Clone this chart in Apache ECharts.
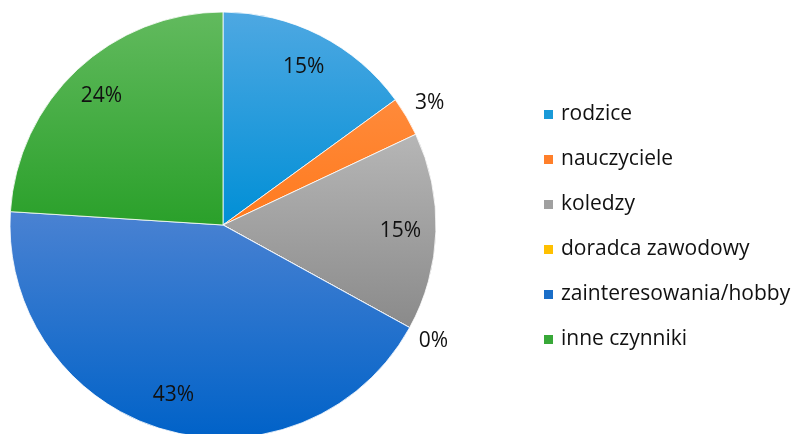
<!DOCTYPE html>
<html>
<head>
<meta charset="UTF-8">
<title>pie</title>
<script src="https://cdn.jsdelivr.net/npm/echarts@6/dist/echarts.min.js"></script>
<style>
  html, body { margin: 0; padding: 0; background: #fff; }
  #chart { width: 794px; height: 434px; }
</style>
</head>
<body>
<div id="chart"></div>
<script>
var categories = ['rodzice', 'nauczyciele', 'koledzy', 'doradca zawodowy', 'zainteresowania/hobby', 'inne czynniki'];
var values = [15, 3, 15, 0, 43, 24];
// labels drawn outside the pie (small slices)
var outsideLabels = ['nauczyciele', 'doradca zawodowy'];

var topColors = ['#4ea8e2', '#ff8a3a', '#b6b6b6', '#ffc61a', '#4a82d2', '#62ba5e'];
var bottomColors = ['#008fd6', '#ff7a1e', '#8a8a8a', '#ffbb00', '#0062c8', '#2aa02a'];
var legendColors = ['#1a9ad8', '#ff7f2a', '#a0a0a0', '#ffc000', '#1a6ec8', '#38a838'];

var center = [223, 225];
var R = 213;
var font = '"Open Sans", sans-serif';

var chart = echarts.init(document.getElementById('chart'));

var mainData = categories.map(function (name, i) {
  return {
    name: name,
    value: values[i],
    itemStyle: {
      color: new echarts.graphic.LinearGradient(0, 0, 0, 1, [
        { offset: 0, color: topColors[i] },
        { offset: 1, color: bottomColors[i] }
      ])
    }
  };
});

function labelData(inside) {
  return categories.map(function (name, i) {
    var isOut = outsideLabels.indexOf(name) >= 0;
    return {
      name: name,
      value: values[i],
      label: { show: inside ? !isOut : isOut }
    };
  });
}

var labelStyle = {
  position: 'inside',
  formatter: '{d}%',
  color: '#111111',
  fontFamily: font,
  fontSize: 21
};

var option = {
  animation: false,
  legend: {
    orient: 'vertical',
    left: 537,
    top: 99,
    itemWidth: 11,
    itemHeight: 11,
    itemGap: 24,
    icon: 'rect',
    selectedMode: false,
    textStyle: { fontFamily: font, fontSize: 21, color: '#111111', padding: [0, 0, 0, 2] },
    data: categories.map(function (name, i) {
      return { name: name, itemStyle: { color: legendColors[i] } };
    })
  },
  series: [{
    type: 'pie',
    center: center,
    radius: [0, R],
    startAngle: 90,
    clockwise: true,
    silent: true,
    label: { show: false },
    labelLine: { show: false },
    itemStyle: { borderColor: '#ffffff', borderWidth: 0.8 },
    data: mainData
  }, {
    type: 'pie',
    center: center,
    radius: [136, R],
    startAngle: 90,
    silent: true,
    itemStyle: { color: 'rgba(0,0,0,0)' },
    label: labelStyle,
    labelLine: { show: false },
    data: labelData(true)
  }, {
    type: 'pie',
    center: center,
    radius: [R, R + 48],
    startAngle: 90,
    silent: true,
    itemStyle: { color: 'rgba(0,0,0,0)' },
    label: labelStyle,
    labelLine: { show: false },
    data: labelData(false)
  }]
};

chart.setOption(option);
</script>
</body>
</html>
